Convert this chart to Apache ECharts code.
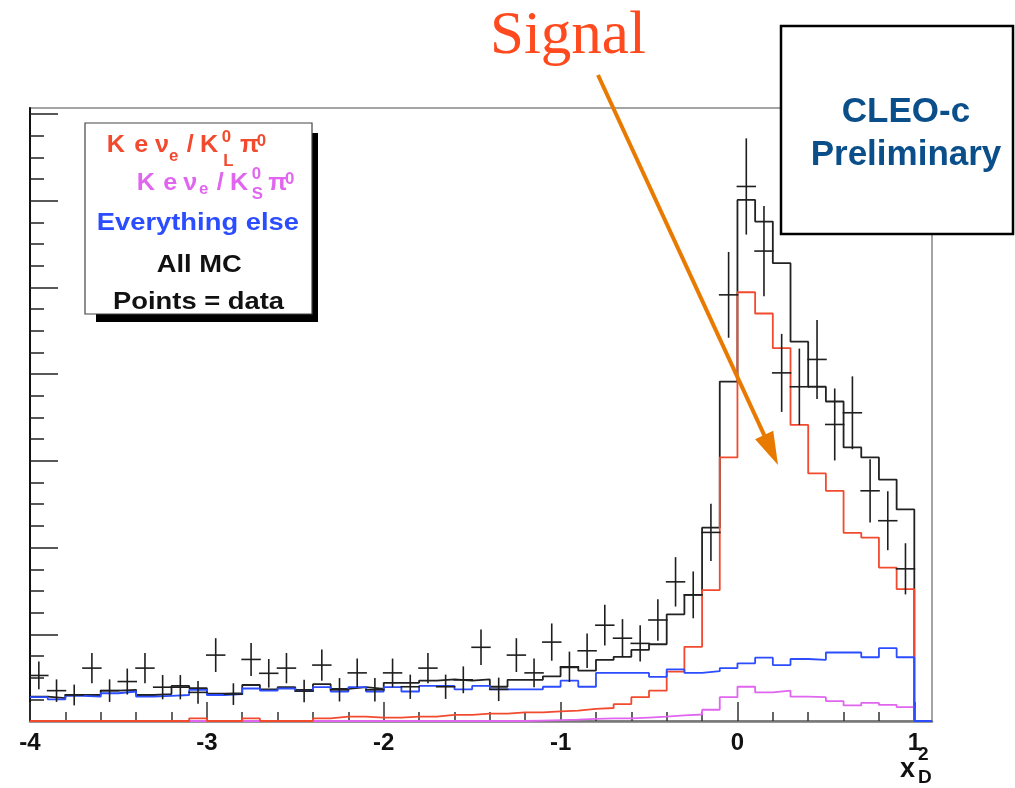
<!DOCTYPE html>
<html><head><meta charset="utf-8">
<script src="https://cdn.jsdelivr.net/npm/echarts@6/dist/echarts.min.js"></script>
<style>html,body{margin:0;padding:0;background:#fff}#c{width:1015px;height:788px}</style>
</head><body><div id="c"></div>
<script>
// ---- binning (x_D^2) ----
const binStart = -4, binWidth = 0.1;
// ---- data points (counts per bin) ----
const dataCounts = [10.5,7.0,6.0,12.2,7.0,9.1,12.2,7.8,7.8,6.6,
  15.2,6.2,14.2,11.0,12.2,6.9,12.9,7.2,11.1,7.2,
  11.1,7.9,12.2,7.9,9.5,17.0,7.3,15.2,11.1,18.2,
  12.5,16.2,22.1,19.1,17.9,23.3,32.1,29.1,43.5,98.3,
  123.3,108.4,80.3,77.1,83.4,68.4,71.1,53.1,46.2,35.1];
const dataErrors = [3.2,2.6,2.4,3.5,2.6,3.0,3.5,2.8,2.8,2.6,
  3.9,2.5,3.8,3.3,3.5,2.6,3.6,2.7,3.3,2.7,
  3.3,2.8,3.5,2.8,3.1,4.1,2.7,3.9,3.3,4.3,
  3.5,4.0,4.7,4.4,4.2,4.8,5.7,5.4,6.6,9.9,
  11.1,10.4,9.0,8.8,9.1,8.3,8.4,7.3,6.8,5.9];
// ---- MC histograms ----
const allMC = [5.6,5.3,6.0,6.0,7.0,7.2,6.0,6.2,8.1,7.6,
  6.3,6.4,8.3,7.3,7.8,7.2,8.5,7.4,7.8,7.4,
  8.8,8.8,9.3,9.6,9.3,9.6,7.9,9.5,9.5,10.3,
  12.4,11.6,14.1,14.8,16.4,17.7,24.6,29.1,44.6,78.3,
  120.2,115.2,105.6,87.5,77.1,73.7,63.1,60.8,55.7,48.8];
const kLpi0 = [0,0,0,0,0,0,0,0,0,0.6,
  0,0,0.6,0,0,0,0.6,1.0,1.0,0.8,
  0.8,1.0,1.0,1.4,1.4,1.7,1.7,2.0,2.0,2.2,
  2.4,2.8,3.0,3.9,5.5,7.0,11.4,17.1,30.2,60.8,
  98.9,94.0,86.0,68.3,57.1,53.1,43.4,42.3,35.4,30.4];
const kSpi0 = [0,0,0,0,0,0,0,0,0,0,
  0,0,0,0,0,0,0,0,0,0,
  0,0,0,0,0,0,0,0,0.1,0.2,
  0.3,0.5,0.6,0.6,0.8,1.0,1.3,1.5,2.6,5.5,
  7.9,6.6,7.0,5.6,5.5,4.6,3.6,4.2,3.7,3.2];
const everythingElse = [5.5,5.0,5.8,5.6,6.4,6.8,5.6,5.8,6.0,7.2,
  6.0,6.2,7.5,7.0,7.5,6.9,7.8,6.8,7.8,6.8,
  7.8,6.8,8.1,8.1,7.3,8.1,7.3,7.3,7.3,7.9,
  9.3,7.9,11.1,11.1,11.1,10.2,11.9,11.1,11.5,12.2,
  13.3,14.6,12.9,14.3,14.1,15.8,15.8,14.7,16.8,14.7,
  0];
const xTickValues = [-4,-3,-2,-1,0,1];
const yTickValues = [0,20,40,60,80,100,120,140];

function edge(i){ return +(binStart + i*binWidth).toFixed(3); }
function steps(vals){
  const pts = vals.map((v,i)=>[edge(i), v]);
  pts.push([edge(vals.length), 0]);
  return pts;
}
const dataPts = dataCounts.map((v,i)=>[+(binStart+(i+0.5)*binWidth).toFixed(3), v, dataErrors[i]]);

// ---- text helpers ----
const FONT = '"Liberation Sans", Arial, sans-serif';
function T(x, y, t, s, fill, align, sx){
  return {type:'text', x:x, y:y, z:100, scaleX:sx||1, style:{text:t, fontSize:s, fontWeight:'bold', fontFamily:FONT,
    fill:fill, align:align||'left', verticalAlign:'middle'}};
}
// legend formula glyphs: [text, x, y, size]
function formula(color, glyphs){
  return glyphs.map(g=>T(g[1], g[2], g[0], g[3], color, 'left', 1.05));
}
const RED='#f24a2e', MAG='#e066f0', BLUE='#2b4cff', BLK='#222';

// arrow geometry (annotation)
const aS=[598,75], aT=[778,465];
const L=Math.hypot(aT[0]-aS[0], aT[1]-aS[1]);
const d=[(aT[0]-aS[0])/L,(aT[1]-aS[1])/L], nrm=[d[1],-d[0]];
const hb=[aT[0]-33*d[0], aT[1]-33*d[1]];

const chart = echarts.init(document.getElementById('c'), null, {renderer:'canvas'});
chart.setOption({
  animation:false,
  backgroundColor:'#fff',
  grid:{left:30, right:83, top:108, bottom:67, show:true, borderColor:'#a4a4a4', borderWidth:2},
  xAxis:{type:'value', min:-4, max:1.1, interval:1,
    axisLine:{show:true, onZero:false, lineStyle:{color:'#777', width:2.5}},
    axisTick:{show:true, inside:true, length:19, customValues:xTickValues, lineStyle:{color:'#333', width:1.5}},
    minorTick:{show:true, splitNumber:5, length:9, lineStyle:{color:'#333', width:1.5}},
    axisLabel:{customValues:xTickValues, fontSize:24, fontWeight:'bold', color:'#111', margin:10, fontFamily:FONT},
    splitLine:{show:false}},
  yAxis:{type:'value', min:0, max:141.4, interval:20,
    axisLine:{show:true, onZero:false, lineStyle:{color:'#111', width:2}},
    axisTick:{show:true, inside:true, length:28, customValues:yTickValues, lineStyle:{color:'#222', width:1.5}},
    minorTick:{show:true, splitNumber:4, length:14, lineStyle:{color:'#222', width:1.5}},
    axisLabel:{show:false}, splitLine:{show:false}},
  series:[
    {type:'line', name:'All MC', step:'end', symbol:'none', data:steps(allMC), z:2,
      lineStyle:{color:BLK, width:1.8}},
    {type:'line', name:'KS', step:'end', symbol:'none', data:steps(kSpi0), z:3,
      lineStyle:{color:MAG, width:1.8}},
    {type:'line', name:'KL', step:'end', symbol:'none', data:steps(kLpi0), z:4,
      lineStyle:{color:RED, width:1.8}},
    {type:'line', name:'Everything else', step:'end', symbol:'none', data:steps(everythingElse), z:5,
      lineStyle:{color:BLUE, width:1.8}},
    {type:'custom', name:'data', z:6, data:dataPts, encode:{x:0, y:1},
      renderItem:function(params, api){
        const x=api.value(0), y=api.value(1), e=api.value(2);
        const l=api.coord([x-0.055,y]), r=api.coord([x+0.055,y]);
        const t=api.coord([x,y+e]), b=api.coord([x,y-e]);
        const st={stroke:'#1e1e1e', lineWidth:1.6};
        return {type:'group', children:[
          {type:'line', shape:{x1:l[0],y1:l[1],x2:r[0],y2:r[1]}, style:st},
          {type:'line', shape:{x1:t[0],y1:t[1],x2:b[0],y2:b[1]}, style:st}]};
      }}
  ],
  graphic:[].concat(
    [
      {type:'rect', z:90, shape:{x:96, y:133, width:222, height:189}, style:{fill:'#000'}},
      {type:'rect', z:91, shape:{x:85, y:123, width:227, height:191}, style:{fill:'#fff', stroke:'#444', lineWidth:1.2}}
    ],
    formula(RED, [['K',106.7,145,24],['e',134.3,145,24],['ν',155,145,24],['e',169,156.5,16],['/',186.7,145,24],
      ['K',200,145,24],['0',221.7,137.3,16],['L',223.3,161.5,16],['π',240,145,24],['0',256.7,142,16]]),
    formula(MAG, [['K',136.7,183.3,24],['e',163.3,183.3,24],['ν',183.3,183.3,24],['e',199,190,16],['/',216.7,183.3,24],
      ['K',230,183.3,24],['0',251.7,174.5,16],['S',251.7,195,16],['π',268.3,183.3,24],['0',285,180,16]]),
    [
      T(96.7, 223.3, 'Everything else', 24, BLUE, 'left', 1.14),
      T(156.7, 265, 'All MC', 24, '#111', 'left', 1.14),
      T(113, 302, 'Points = data', 24, '#111', 'left', 1.14),
      {type:'rect', z:95, shape:{x:781, y:26, width:232, height:208}, style:{fill:'#fff', stroke:'#000', lineWidth:2.5}},
      T(906, 112, 'CLEO-c', 35, '#0b4f8a', 'center'),
      T(906, 155, 'Preliminary', 35, '#0b4f8a', 'center'),
      {type:'text', x:490, y:37, z:100, style:{text:'Signal', fontSize:61, fontFamily:'"Liberation Serif", "Times New Roman", serif',
        fill:'#ff4a1f', align:'left', verticalAlign:'middle'}},
      {type:'line', z:100, shape:{x1:aS[0], y1:aS[1], x2:hb[0]+4*d[0], y2:hb[1]+4*d[1]}, style:{stroke:'#e87a00', lineWidth:4}},
      {type:'polygon', z:100, shape:{points:[aT,[hb[0]+10*nrm[0],hb[1]+10*nrm[1]],[hb[0]-10*nrm[0],hb[1]-10*nrm[1]]]}, style:{fill:'#e87a00'}},
      T(900, 770, 'x', 27, '#111'),
      T(918, 755, '2', 19, '#111'),
      T(918, 778, 'D', 19, '#111')
    ])
});
</script>
</body></html>
